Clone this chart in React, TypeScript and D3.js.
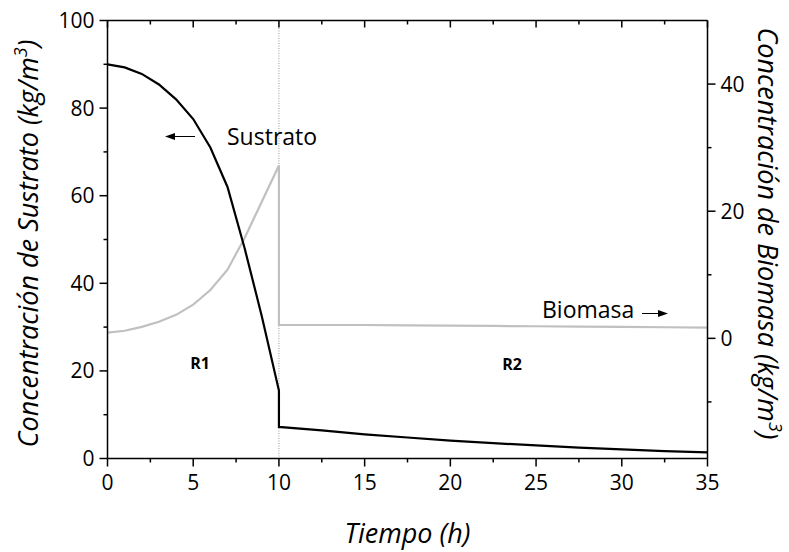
import React from "react";
import * as d3 from "d3";

// Data
const timeR1 = [0, 1, 2, 3, 4, 5, 6, 7, 8, 9, 10];
const sustratoR1 = [90, 89.3, 87.8, 85.4, 82.0, 77.5, 71.0, 62.0, 48.0, 32.5, 15.5];
const biomasaR1 = [0.9, 1.2, 1.8, 2.6, 3.7, 5.3, 7.6, 10.8, 15.8, 21.5, 27.2];
const timeR2 = [10, 12.5, 15, 17.5, 20, 22.5, 25, 27.5, 30, 32.5, 35];
const sustratoR2 = [7.2, 6.4, 5.5, 4.8, 4.1, 3.5, 3.0, 2.5, 2.1, 1.7, 1.4];
const biomasaR2 = [2.1, 2.1, 2.1, 2.05, 2.0, 1.95, 1.9, 1.85, 1.8, 1.75, 1.7];
const xTicks = [0, 5, 10, 15, 20, 25, 30, 35];
const leftTicks = [0, 20, 40, 60, 80, 100];
const rightTicks = [0, 20, 40];

const W = 789, H = 552;
const m = { left: 107.5, right: 707.5, top: 20.5, bottom: 458.5 };
const font = "'Open Sans', sans-serif";

export default function App() {
  const x = d3.scaleLinear().domain([0, 35]).range([m.left, m.right]);
  const yL = d3.scaleLinear().domain([0, 100]).range([m.bottom, m.top]);
  const yR = d3.scaleLinear().domain([-18.9, 50]).range([m.bottom, m.top]);

  const sLine = d3.line<[number, number]>().x(d => x(d[0])).y(d => yL(d[1]));
  const bLine = d3.line<[number, number]>().x(d => x(d[0])).y(d => yR(d[1]));

  const sData: [number, number][] = [
    ...timeR1.map((t, i) => [t, sustratoR1[i]] as [number, number]),
    ...timeR2.map((t, i) => [t, sustratoR2[i]] as [number, number]),
  ];
  const bData: [number, number][] = [
    ...timeR1.map((t, i) => [t, biomasaR1[i]] as [number, number]),
    ...timeR2.map((t, i) => [t, biomasaR2[i]] as [number, number]),
  ];

  const xMinor = d3.range(0, 35.01, 2.5).filter(v => !xTicks.includes(v));
  const lMinor = d3.range(10, 100, 20);
  const rMinor = [-10, 10, 30];

  return (
    <svg width={W} height={H} style={{ position: "absolute", left: 0, top: 0, background: "#fff" }}>
      <rect width={W} height={H} fill="#fff" />
      {/* divider */}
      <line x1={x(10)} x2={x(10)} y1={m.top} y2={m.bottom} stroke="#999" strokeWidth={1} strokeDasharray="1,1.5" />
      {/* series */}
      <path d={bLine(bData) || ""} fill="none" stroke="#c0c0c0" strokeWidth={2.2} />
      <path d={sLine(sData) || ""} fill="none" stroke="#000" strokeWidth={2.2} />

      {/* frame */}
      <line x1={m.left} x2={m.right} y1={m.top} y2={m.top} stroke="#000" strokeWidth={1.5} />
      <line x1={m.left} x2={m.right} y1={m.bottom} y2={m.bottom} stroke="#000" strokeWidth={1.5} />
      <line x1={m.left} x2={m.left} y1={m.top} y2={m.bottom} stroke="#000" strokeWidth={1.5} />
      <line x1={m.right} x2={m.right} y1={m.top} y2={m.bottom} stroke="#000" strokeWidth={1.5} />

      {/* x axis ticks */}
      {xTicks.map(t => (
        <g key={"x" + t}>
          <line x1={x(t)} x2={x(t)} y1={m.bottom} y2={m.bottom + 8} stroke="#000" strokeWidth={1.5} />
          <line x1={x(t)} x2={x(t)} y1={m.top} y2={m.top + 7} stroke="#000" strokeWidth={1.5} />
          <text x={x(t)} y={m.bottom + 31} textAnchor="middle" fontFamily={font} fontSize={21} fill="#000">{t}</text>
        </g>
      ))}
      {xMinor.map(t => (
        <g key={"xm" + t}>
          <line x1={x(t)} x2={x(t)} y1={m.bottom} y2={m.bottom + 4} stroke="#000" strokeWidth={1.5} />
          <line x1={x(t)} x2={x(t)} y1={m.top} y2={m.top + 4} stroke="#000" strokeWidth={1.5} />
        </g>
      ))}

      {/* left axis */}
      {leftTicks.map(v => (
        <g key={"l" + v}>
          <line x1={m.left - 8} x2={m.left} y1={yL(v)} y2={yL(v)} stroke="#000" strokeWidth={1.5} />
          <text x={m.left - 13} y={yL(v) + 7.5} textAnchor="end" fontFamily={font} fontSize={21} fill="#000">{v}</text>
        </g>
      ))}
      {lMinor.map(v => (
        <line key={"lm" + v} x1={m.left - 4} x2={m.left} y1={yL(v)} y2={yL(v)} stroke="#000" strokeWidth={1.5} />
      ))}

      {/* right axis */}
      {rightTicks.map(v => (
        <g key={"r" + v}>
          <line x1={m.right} x2={m.right + 8} y1={yR(v)} y2={yR(v)} stroke="#000" strokeWidth={1.5} />
          <text x={m.right + 13} y={yR(v) + 7.5} textAnchor="start" fontFamily={font} fontSize={21} fill="#000">{v}</text>
        </g>
      ))}
      {rMinor.map(v => (
        <line key={"rm" + v} x1={m.right} x2={m.right + 4} y1={yR(v)} y2={yR(v)} stroke="#000" strokeWidth={1.5} />
      ))}

      {/* axis titles */}
      <text x={(m.left + m.right) / 2} y={543} textAnchor="middle" fontFamily={font} fontStyle="italic" fontSize={27} fill="#000">Tiempo (h)</text>
      <text transform={`translate(38,${(m.top + m.bottom) / 2 + 4}) rotate(-90)`} textAnchor="middle" fontFamily={font} fontStyle="italic" fontSize={27} fill="#000">
        Concentración de Sustrato (kg/m<tspan fontSize={18} dy={-11}>3</tspan><tspan dy={11}>)</tspan>
      </text>
      <text transform={`translate(758,${(m.top + m.bottom) / 2 - 6}) rotate(90)`} textAnchor="middle" fontFamily={font} fontStyle="italic" fontSize={27} fill="#000">
        Concentración de Biomasa (kg/m<tspan fontSize={18} dy={-11}>3</tspan><tspan dy={11}>)</tspan>
      </text>

      {/* annotations */}
      <text x={227} y={145} fontFamily={font} fontSize={23} fill="#000">Sustrato</text>
      <line x1={170} x2={195} y1={136.5} y2={136.5} stroke="#000" strokeWidth={1} />
      <path d="M165,136.5 L175,133 L175,140 Z" fill="#000" />
      <text x={542} y={318} fontFamily={font} fontSize={23} fill="#000">Biomasa</text>
      <line x1={642} x2={663} y1={313.5} y2={313.5} stroke="#000" strokeWidth={1} />
      <path d="M668,313.5 L658,310 L658,317 Z" fill="#000" />
      <text x={x(5.4)} y={369} textAnchor="middle" fontFamily={font} fontWeight="bold" fontSize={16} fill="#000">R1</text>
      <text x={x(23.6)} y={370} textAnchor="middle" fontFamily={font} fontWeight="bold" fontSize={16} fill="#000">R2</text>
    </svg>
  );
}
